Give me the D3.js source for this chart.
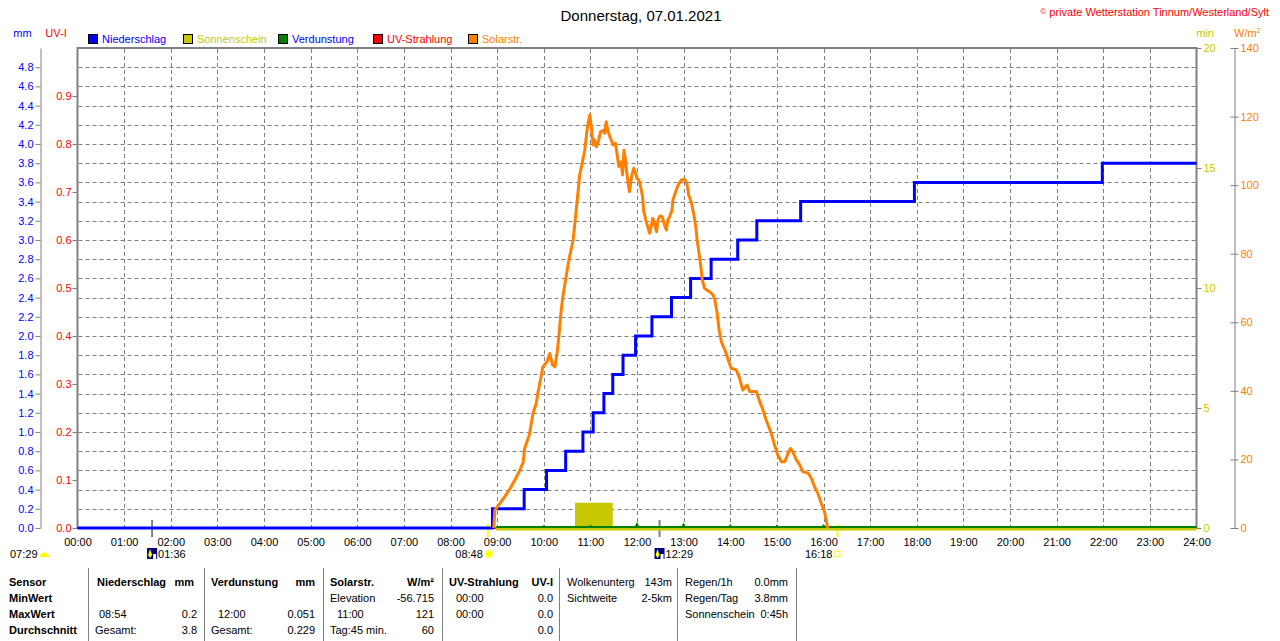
<!DOCTYPE html>
<html>
<head>
<meta charset="utf-8">
<script src="https://cdn.jsdelivr.net/npm/d3@7"></script>
<style>
  body { margin: 0; background: #fff; }
  svg { display: block; font-family: "Liberation Sans", Arial, sans-serif; }
</style>
</head>
<body>
<svg id="chart" width="1280" height="641"></svg>
<script>
// ---- data (hours of day, values) ----
const hourTicks = d3.range(0, 25);
const mmTicks = d3.range(0, 25).map(i => i * 0.2);
const uvTicks = d3.range(0, 10).map(i => i * 0.1);
const minTicks = [0, 5, 10, 15, 20];
const wTicks = [0, 20, 40, 60, 80, 100, 120, 140];

// Niederschlag, cumulative mm (step after)
const rainTimes = [0, 8.9, 9.58, 10.06, 10.47, 10.84, 11.06, 11.29, 11.48, 11.7, 11.97,
  12.32, 12.74, 13.15, 13.59, 14.16, 14.57, 15.51, 17.95, 21.98, 24];
const rainValues = [0, 0.2, 0.4, 0.6, 0.8, 1.0, 1.2, 1.4, 1.6, 1.8, 2.0,
  2.2, 2.4, 2.6, 2.8, 3.0, 3.2, 3.4, 3.6, 3.8, 3.8];

// Sonnenschein, min
const sunTimes = [8.98, 10.67, 11.48, 24];
const sunValues = [0, 1.05, 0, 0];

// Verdunstung, mm per hour
const verdTimes = [10, 11, 12, 13, 14, 15, 16];
const verdValues = [0.02, 0.025, 0.051, 0.048, 0.03, 0.025, 0.03];

// UV-Strahlung, UV-I
const uvTimes = [8.93, 16.09];
const uvValues = [0, 0];

// Solarstrahlung, W/m²
const solarTimes = [8.93, 8.95, 9.06, 9.16, 9.27, 9.38, 9.49, 9.56, 9.59, 9.69, 9.77, 9.84, 9.88, 9.93, 9.98,
  10.07, 10.13, 10.19, 10.24, 10.29, 10.33, 10.36, 10.4, 10.45, 10.54, 10.63, 10.69, 10.74, 10.77, 10.83,
  10.88, 10.92, 10.95, 10.99, 11.02, 11.06, 11.09, 11.13, 11.18, 11.22, 11.27, 11.31, 11.34, 11.38, 11.43,
  11.49, 11.54, 11.57, 11.61, 11.66, 11.69, 11.72, 11.75, 11.77, 11.81, 11.84, 11.89, 11.93, 11.97, 12.0,
  12.04, 12.07, 12.12, 12.14, 12.19, 12.24, 12.27, 12.31, 12.34, 12.38, 12.42, 12.45, 12.49, 12.54, 12.59,
  12.63, 12.66, 12.7, 12.75, 12.77, 12.83, 12.88, 12.95, 13.02, 13.07, 13.11, 13.17, 13.22, 13.26, 13.29,
  13.33, 13.37, 13.4, 13.45, 13.52, 13.56, 13.63, 13.67, 13.72, 13.76, 13.81, 13.9, 13.97, 14.02, 14.13,
  14.2, 14.27, 14.36, 14.42, 14.56, 14.62, 14.69, 14.77, 14.88, 14.95, 15.02, 15.1, 15.17, 15.24, 15.29,
  15.34, 15.42, 15.49, 15.56, 15.67, 15.74, 15.81, 15.88, 15.95, 16.02, 16.06, 16.09];
const solarValues = [0, 5.2, 7.2, 9.1, 11.3, 14.0, 16.9, 19.3, 23.2, 27.1, 33.4, 36.4, 39.8, 43.2, 47.0,
  48.5, 50.9, 47.5, 47.0, 51.4, 56.8, 61.6, 66.5, 70.9, 78.2, 84, 91.8, 98.6, 103, 106.8,
  110.2, 115.1, 118, 120.5, 117, 111.7, 113.2, 111.2, 113.2, 115.6, 115.9, 115.1, 118.5, 115.6, 113.7,
  111.7, 112.2, 109.3, 105.4, 106.8, 103, 110.2, 107.8, 104.9, 100.5, 98.1, 103, 104.9, 103.5, 102,
  101.5, 100, 96.6, 92.7, 89.8, 87.4, 86, 88.4, 90.3, 88.4, 86.4, 89.8, 91, 90.8, 88.4,
  86.9, 89.8, 90.8, 92.7, 95.7, 98.1, 100, 101.5, 101.7, 100.5, 97.1, 94.7, 91.3, 87.9, 84,
  80.1, 76.2, 72.3, 69.9, 69.2, 68.9, 68, 66.5, 62.6, 57.8, 54.3, 51.4, 48.5, 46.6, 46.1,
  43.7, 40.2, 41.7, 39.8, 39.8, 37.3, 34.9, 31.5, 27.6, 24.2, 21.3, 19.3, 19.3, 21.8, 23.2,
  22.3, 19.8, 18.4, 16.4, 16, 14.5, 12, 10.1, 7.2, 4.8, 2.3, 0];

// moon / sun events below the axis
const moonTimes = [1.6, 12.4833];
const moonLabels = ['01:36', '12:29'];
const sunEventTimes = [8.8, 16.3];
const sunEventLabels = ['08:48', '16:18'];

const legendNames = ['Niederschlag', 'Sonnenschein', 'Verdunstung', 'UV-Strahlung', 'Solarstr.'];
const legendBoxColors = ['#0000ff', '#c8c800', '#008000', '#ff0000', '#ff8000'];
const legendTextColors = ['#0000ff', '#c8c800', '#0000ff', '#ff0000', '#ff8000'];

// ---- scales ----
const plotTop = 48, plotBottom = 528, plotLeft = 77.5, plotRight = 1196.5;
const x = d3.scaleLinear().domain([0, 24]).range([plotLeft, plotRight]);
const yMm = d3.scaleLinear().domain([0, 5]).range([plotBottom, plotTop]);
const yUv = d3.scaleLinear().domain([0, 1]).range([plotBottom, plotTop]);
const yMin = d3.scaleLinear().domain([0, 20]).range([plotBottom, plotTop]);
const yW = d3.scaleLinear().domain([0, 140]).range([plotBottom, plotTop]);

const svg = d3.select('#chart');
const GRAY = '#808080';

// title and copyright
svg.append('text').attr('x', 641).attr('y', 20.5).attr('text-anchor', 'middle')
  .style('font-size', '15px').text('Donnerstag, 07.01.2021');
const cp = svg.append('text').attr('x', 1269).attr('y', 16).attr('text-anchor', 'end')
  .style('font-size', '11px').attr('fill', '#ff0000');
cp.append('tspan').style('font-size', '8px').attr('dy', -2).text('©');
cp.append('tspan').attr('dy', 2).text(' private Wetterstation Tinnum/Westerland/Sylt');

// unit labels
const unit = (tx, ty, col, t, anchor) => svg.append('text').attr('x', tx).attr('y', ty)
  .attr('text-anchor', anchor || 'middle').attr('fill', col).style('font-size', '11px').text(t);
unit(22.5, 37, '#0000ff', 'mm');
unit(56, 37, '#ff0000', 'UV-I');
unit(1205, 37, '#c8c800', 'min');
const wu = unit(1234, 37, '#ff8000', 'W/m', 'start');
wu.append('tspan').style('font-size', '7px').attr('dy', -4).text('2');

// legend
const leg = svg.append('g').selectAll('g').data(legendNames).join('g')
  .attr('transform', (d, i) => `translate(${88 + i * 95},34)`);
leg.append('rect').attr('x', 0.5).attr('y', 0.5).attr('width', 9).attr('height', 9)
  .attr('fill', (d, i) => legendBoxColors[i]).attr('stroke', '#000');
leg.append('text').attr('x', 14).attr('y', 8.8).style('font-size', '11px')
  .attr('fill', (d, i) => legendTextColors[i]).text(d => d);

// grid
const grid = svg.append('g').attr('stroke', GRAY).attr('stroke-dasharray', '4,3');
grid.selectAll('line.h').data(mmTicks.filter(v => v > 0.01)).join('line')
  .attr('x1', plotLeft + 1).attr('x2', plotRight - 1)
  .attr('y1', d => Math.round(yMm(d)) + 0.5).attr('y2', d => Math.round(yMm(d)) + 0.5);
grid.selectAll('line.v').data(hourTicks.filter(h => h > 0 && h < 24)).join('line')
  .attr('y1', plotTop + 1).attr('y2', plotBottom)
  .attr('x1', d => Math.round(x(d)) + 0.5).attr('x2', d => Math.round(x(d)) + 0.5);

// axes
function styleAxis(g, col) {
  g.selectAll('line').attr('stroke', GRAY);
  g.selectAll('path').attr('stroke', GRAY);
  g.selectAll('text').attr('fill', col).style('font-size', '11px');
  g.attr('font-family', null).attr('font-size', null);
}
svg.append('g').attr('transform', 'translate(40.5,0)')
  .call(d3.axisLeft(yMm).tickValues(mmTicks.filter(v => v < 4.9))
    .tickFormat(d3.format('.1f')).tickSize(5).tickSizeOuter(0).tickPadding(2))
  .call(g => styleAxis(g, '#0000ff'));
svg.append('g').attr('transform', `translate(${plotLeft},0)`)
  .call(d3.axisLeft(yUv).tickValues(uvTicks).tickFormat(d3.format('.1f')).tickSize(5).tickPadding(1))
  .call(g => { g.select('.domain').remove(); styleAxis(g, '#ff0000'); });
svg.append('g').attr('transform', `translate(${plotRight},0)`)
  .call(d3.axisRight(yMin).tickValues(minTicks).tickSize(5).tickPadding(2))
  .call(g => { g.select('.domain').remove(); styleAxis(g, '#c8c800'); });
svg.append('g').attr('transform', 'translate(1234.5,0)')
  .call(d3.axisRight(yW).tickValues(wTicks).tickSize(4).tickSizeOuter(0).tickPadding(2))
  .call(g => { g.selectAll('.tick line').attr('x1', -4); styleAxis(g, '#ff8000'); });
svg.append('g').attr('transform', `translate(0,${plotBottom})`)
  .call(d3.axisBottom(x).tickValues(hourTicks).tickFormat(h => String(h).padStart(2, '0') + ':00')
    .tickSize(0).tickPadding(10))
  .call(g => { g.select('.domain').remove(); styleAxis(g, '#000'); });

// plot frame
svg.append('path').attr('fill', 'none').attr('stroke', GRAY).attr('stroke-width', 2)
  .attr('d', `M${plotLeft},${plotBottom + 1}V${plotTop}H${plotRight}V${plotBottom + 1}`);

// event ticks below axis
svg.selectAll('line.moon').data(moonTimes).join('line')
  .attr('x1', d => x(d)).attr('x2', d => x(d)).attr('y1', 520).attr('y2', 537)
  .attr('stroke', GRAY).attr('stroke-width', 2);
svg.selectAll('line.sunev').data(sunEventTimes).join('line')
  .attr('x1', d => x(d)).attr('x2', d => x(d)).attr('y1', 524).attr('y2', 537)
  .attr('stroke', '#ffff00').attr('stroke-width', 2);

// series
const toPts = (t, v) => t.map((d, i) => [d, v[i]]);
const plot = svg.append('g');

// UV (lies underneath the other zero lines)
plot.append('path').datum(toPts(uvTimes, uvValues))
  .attr('fill', 'none').attr('stroke', '#ff0000').attr('stroke-width', 2)
  .attr('d', d3.line().x(d => x(d[0])).y(d => yUv(d[1])));

// Sonnenschein: bar + base line
plot.append('path').datum(toPts(sunTimes, sunValues))
  .attr('fill', '#c8c800')
  .attr('d', d3.area().curve(d3.curveStepAfter).x(d => x(d[0])).y0(plotBottom).y1(d => yMin(d[1])));
plot.append('path').datum(toPts(sunTimes, sunValues.map(() => 0)))
  .attr('fill', 'none').attr('stroke', '#c8c800').attr('stroke-width', 3)
  .attr('transform', 'translate(0,1)')
  .attr('d', d3.line().x(d => x(d[0])).y(d => yMin(d[1])));

// Verdunstung: base line + hourly spikes
plot.append('line').attr('x1', x(sunTimes[0])).attr('x2', plotRight)
  .attr('y1', yMm(0) - 1).attr('y2', yMm(0) - 1)
  .attr('stroke', '#008000').attr('stroke-width', 2);
plot.selectAll('path.verd').data(toPts(verdTimes, verdValues)).join('path')
  .attr('fill', '#008000')
  .attr('d', d => `M${x(d[0]) - 3},${yMm(0)}L${x(d[0])},${yMm(d[1]) - 1}L${x(d[0]) + 3},${yMm(0)}Z`);

// Niederschlag
plot.append('path').datum(toPts(rainTimes, rainValues))
  .attr('fill', 'none').attr('stroke', '#0000ff').attr('stroke-width', 3)
  .attr('d', d3.line().curve(d3.curveStepAfter).x(d => x(d[0])).y(d => yMm(d[1])));

// Solarstrahlung
plot.append('path').datum(toPts(solarTimes, solarValues))
  .attr('fill', 'none').attr('stroke', '#ff8000').attr('stroke-width', 3)
  .attr('stroke-linejoin', 'round')
  .attr('d', d3.line().x(d => x(d[0])).y(d => yW(d[1])));

// event labels and icons
const ev = svg.append('g').style('font-size', '11px');
ev.append('text').attr('x', 10).attr('y', 558).text('07:29');
ev.append('path').attr('fill', '#ffff00').attr('d', 'M40,557A4.5,4.5 0 0 1 49,557Z');
moonTimes.forEach((t, i) => {
  const cx = x(t);
  ev.append('rect').attr('x', cx - 5).attr('y', 548).attr('width', 10).attr('height', 11).attr('fill', '#000080');
  ev.append('rect').attr('x', cx + 1).attr('y', 554).attr('width', 3).attr('height', 5).attr('fill', '#ffffff');
  ev.append('path').attr('fill', '#ffff00').attr('d', `M${cx - 2},549L${cx},555L${cx - 2},558L${cx - 4},555Z`);
  ev.append('text').attr('x', cx + 6).attr('y', 558).text(moonLabels[i]);
});
sunEventTimes.forEach((t, i) => {
  const cx = x(t);
  ev.append('text').attr('x', cx - 5).attr('y', 558).attr('text-anchor', 'end').text(sunEventLabels[i]);
  if (i === 0) {
    ev.append('circle').attr('cx', cx + 1).attr('cy', 554).attr('r', 4.5).attr('fill', '#ffff80');
    ev.append('circle').attr('cx', cx + 1).attr('cy', 554).attr('r', 3).attr('fill', '#ffff00');
  } else {
    ev.append('rect').attr('x', cx - 2.5).attr('y', 551.5).attr('width', 5).attr('height', 5)
      .attr('fill', 'none').attr('stroke', '#ffff00');
  }
});

// summary table
const tableSeps = [88, 204, 323, 442, 559, 677, 796];
const tableRows = [585.5, 602, 618, 634];
const tableCells = [
  [9, 0, 'Sensor', 's', 1], [97, 0, 'Niederschlag', 's', 1], [194, 0, 'mm', 'e', 1],
  [211, 0, 'Verdunstung', 's', 1], [315, 0, 'mm', 'e', 1], [330, 0, 'Solarstr.', 's', 1],
  [434, 0, 'W/m²', 'e', 1], [449, 0, 'UV-Strahlung', 's', 1], [553, 0, 'UV-I', 'e', 1],
  [567, 0, 'Wolkenunterg', 's', 0], [672, 0, '143m', 'e', 0], [685, 0, 'Regen/1h', 's', 0], [788, 0, '0.0mm', 'e', 0],
  [9, 1, 'MinWert', 's', 1], [330, 1, 'Elevation', 's', 0], [434, 1, '-56.715', 'e', 0],
  [456, 1, '00:00', 's', 0], [553, 1, '0.0', 'e', 0], [567, 1, 'Sichtweite', 's', 0], [672, 1, '2-5km', 'e', 0],
  [685, 1, 'Regen/Tag', 's', 0], [788, 1, '3.8mm', 'e', 0],
  [9, 2, 'MaxWert', 's', 1], [99, 2, '08:54', 's', 0], [197, 2, '0.2', 'e', 0], [218, 2, '12:00', 's', 0],
  [315, 2, '0.051', 'e', 0], [337, 2, '11:00', 's', 0], [434, 2, '121', 'e', 0], [456, 2, '00:00', 's', 0],
  [553, 2, '0.0', 'e', 0], [685, 2, 'Sonnenschein', 's', 0], [788, 2, '0:45h', 'e', 0],
  [9, 3, 'Durchschnitt', 's', 1], [95, 3, 'Gesamt:', 's', 0], [197, 3, '3.8', 'e', 0], [211, 3, 'Gesamt:', 's', 0],
  [315, 3, '0.229', 'e', 0], [330, 3, 'Tag:45 min.', 's', 0], [434, 3, '60', 'e', 0], [553, 3, '0.0', 'e', 0]
];
const table = svg.append('g').style('font-size', '11px');
table.selectAll('line').data(tableSeps).join('line')
  .attr('x1', d => d + 0.5).attr('x2', d => d + 0.5).attr('y1', 568).attr('y2', 641)
  .attr('stroke', GRAY);
table.selectAll('text').data(tableCells).join('text')
  .attr('x', d => d[0]).attr('y', d => tableRows[d[1]])
  .attr('text-anchor', d => d[3] === 'e' ? 'end' : 'start')
  .style('font-weight', d => d[4] ? 'bold' : 'normal')
  .text(d => d[2]);
</script>
</body>
</html>
